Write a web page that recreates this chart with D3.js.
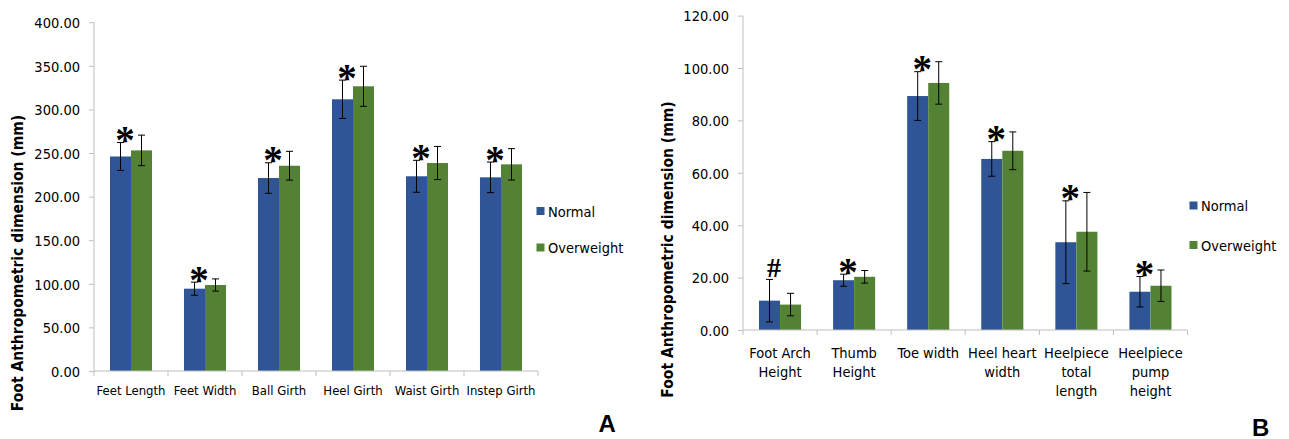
<!DOCTYPE html>
<html>
<head>
<meta charset="utf-8">
<script src="https://cdn.jsdelivr.net/npm/d3@7/dist/d3.min.js"></script>
<style>
  html, body { margin: 0; padding: 0; background: #fff; }
  svg { display: block; }
  .tick-lbl { font-family: "DejaVu Sans Condensed", "DejaVu Sans", sans-serif; fill: #000; }
  .ytitle { font-family: "DejaVu Sans Condensed", "DejaVu Sans", sans-serif; font-weight: bold; fill: #000; }
</style>
</head>
<body>
<svg id="chart" width="1289" height="439"></svg>
<script>
// ---------- Panel A data ----------
const categoriesA = ["Feet Length", "Feet Width", "Ball Girth", "Heel Girth", "Waist Girth", "Instep Girth"];
const normalA      = [246.0, 94.4, 221.3, 311.6, 223.3, 222.1];
const overweightA  = [253.0, 98.6, 235.4, 326.5, 238.5, 237.0];
const normalSdA    = [16.0, 7.5, 17.5, 22.0, 18.3, 17.5];
const overweightSdA= [17.5, 7.0, 16.5, 23.0, 19.0, 18.0];
const markersA     = ["*", "*", "*", "*", "*", "*"];
const ticksA       = [0, 50, 100, 150, 200, 250, 300, 350, 400];

// ---------- Panel B data ----------
const categoriesB = ["Foot Arch\nHeight", "Thumb\nHeight", "Toe width", "Heel heart\nwidth", "Heelpiece\ntotal\nlength", "Heelpiece\npump\nheight"];
const normalB      = [11.2, 19.0, 89.3, 65.3, 33.5, 14.6];
const overweightB  = [9.7, 20.3, 94.3, 68.4, 37.5, 16.9];
const normalSdB    = [8.1, 2.3, 9.3, 6.6, 15.8, 5.8];
const overweightSdB= [4.3, 2.4, 8.1, 7.2, 15.0, 6.0];
const markersB     = ["#", "*", "*", "*", "*", "*"];
const ticksB       = [0, 20, 40, 60, 80, 100, 120];

const seriesNames = ["Normal", "Overweight"];
const seriesColors = ["#2f5597", "#548235"];
const yTitle = "Foot Anthropometric dimension (mm)";

const svg = d3.select("#chart");

function drawPanel(cfg) {
  const g = svg.append("g");
  const x = d3.scaleBand().domain(cfg.categories).range([cfg.x0, cfg.x1])
      .paddingInner(0.432).paddingOuter(0.216);
  const xs = d3.scaleBand().domain(seriesNames).range([0, x.bandwidth()]);
  const y = d3.scaleLinear().domain([0, d3.max(cfg.ticks)]).range([cfg.y0, cfg.y1]);
  const color = d3.scaleOrdinal().domain(seriesNames).range(seriesColors);

  const rows = cfg.categories.map((c, i) => ({
    cat: c,
    vals: [
      {s: "Normal", v: cfg.normal[i], sd: cfg.normalSd[i]},
      {s: "Overweight", v: cfg.over[i], sd: cfg.overSd[i]}
    ],
    mark: cfg.markers[i]
  }));

  // bars
  const grp = g.selectAll("g.cat").data(rows).join("g")
    .attr("transform", d => `translate(${x(d.cat)},0)`);
  grp.selectAll("rect").data(d => d.vals).join("rect")
    .attr("x", d => xs(d.s))
    .attr("width", xs.bandwidth())
    .attr("y", d => y(d.v))
    .attr("height", d => y(0) - y(d.v))
    .attr("fill", d => color(d.s));

  // error bars
  const eb = grp.selectAll("g.err").data(d => d.vals).join("g").attr("class", "err");
  eb.append("line")
    .attr("x1", d => xs(d.s) + xs.bandwidth() / 2).attr("x2", d => xs(d.s) + xs.bandwidth() / 2)
    .attr("y1", d => y(d.v + d.sd)).attr("y2", d => y(d.v - d.sd))
    .attr("stroke", "#000").attr("stroke-width", 1);
  [1, -1].forEach(sign => {
    eb.append("line")
      .attr("x1", d => xs(d.s) + xs.bandwidth() / 2 - 3.5).attr("x2", d => xs(d.s) + xs.bandwidth() / 2 + 3.5)
      .attr("y1", d => y(d.v + sign * d.sd)).attr("y2", d => y(d.v + sign * d.sd))
      .attr("stroke", "#000").attr("stroke-width", 1);
  });

  // significance markers
  grp.append("text")
    .attr("x", xs("Normal") + xs.bandwidth() / 2 + 4.5)
    .attr("y", d => {
      const top = y(d.vals[0].v + d.vals[0].sd);
      return d.mark === "#" ? top - 2 : top + 10.5;
    })
    .attr("text-anchor", "middle")
    .style("font-family", "'Liberation Serif', 'Times New Roman', serif")
    .style("font-weight", "bold")
    .style("font-size", d => d.mark === "#" ? "28px" : "39px")
    .text(d => d.mark);

  // y axis
  const yAxis = d3.axisLeft(y).tickValues(cfg.ticks).tickFormat(d3.format(".2f")).tickSize(5).tickPadding(9);
  const ya = g.append("g").attr("transform", `translate(${cfg.x0},0)`).call(yAxis);
  ya.select(".domain").attr("stroke", "#bfbfbf").attr("d", `M0,${cfg.y0}V${cfg.y1}`);
  ya.selectAll(".tick line").attr("stroke", "#bfbfbf");
  ya.selectAll(".tick text").attr("class", "tick-lbl").attr("fill", "#000")
    .style("font-size", "14.5px").attr("dy", "0.36em");
  ya.attr("font-family", null).attr("font-size", null);

  // x axis (baseline with ticks at category boundaries)
  const xa = g.append("g");
  xa.append("line").attr("x1", cfg.x0).attr("x2", cfg.x1).attr("y1", cfg.y0).attr("y2", cfg.y0)
    .attr("stroke", "#bfbfbf");
  const bounds = cfg.categories.map(c => x(c) - x.step() * 0.216).concat([cfg.x1]);
  xa.selectAll("line.bt").data(bounds).join("line").attr("class", "bt")
    .attr("x1", d => d).attr("x2", d => d).attr("y1", cfg.y0).attr("y2", cfg.y0 + 5)
    .attr("stroke", "#bfbfbf");
  const lbl = xa.selectAll("text.cl").data(cfg.categories).join("text").attr("class", "tick-lbl cl")
    .attr("text-anchor", "middle")
    .style("font-size", cfg.catFont + "px")
    .attr("transform", d => `translate(${x(d) + x.bandwidth() / 2},${cfg.catBaseline})`);
  lbl.selectAll("tspan").data(d => d.split("\n")).join("tspan")
    .attr("x", 0).attr("y", (d, i) => i * 19).text(d => d);

  // y title
  g.append("text").attr("class", "ytitle")
    .attr("transform", `translate(${cfg.titleX},${cfg.titleY}) rotate(-90)`)
    .attr("text-anchor", "middle").style("font-size", "15.5px").text(yTitle);

  // legend
  const lg = g.selectAll("g.leg").data(seriesNames).join("g")
    .attr("transform", (d, i) => `translate(${cfg.legX},${cfg.legY + i * cfg.legGap})`);
  lg.append("rect").attr("x", 0).attr("y", -4).attr("width", 8).attr("height", 8).attr("fill", d => color(d));
  lg.append("text").attr("class", "tick-lbl").attr("x", 11.5).attr("y", 5.5)
    .style("font-size", "14.5px").text(d => d);

  // panel letter
  g.append("text").attr("x", cfg.letterX).attr("y", cfg.letterY)
    .style("font-family", "'Liberation Sans', Arial, sans-serif").style("font-weight", "bold")
    .style("font-size", "24px").text(cfg.letter);
}

drawPanel({
  categories: categoriesA, normal: normalA, over: overweightA,
  normalSd: normalSdA, overSd: overweightSdA, markers: markersA, ticks: ticksA,
  x0: 94, x1: 538, y0: 371, y1: 22.2, catFont: 13, catBaseline: 395,
  titleX: 22.5, titleY: 263, legX: 536.5, legY: 211, legGap: 36.5,
  letter: "A", letterX: 598.5, letterY: 432
});

drawPanel({
  categories: categoriesB, normal: normalB, over: overweightB,
  normalSd: normalSdB, overSd: overweightSdB, markers: markersB, ticks: ticksB,
  x0: 743, x1: 1187.5, y0: 330, y1: 15.6, catFont: 14.5, catBaseline: 357.5,
  titleX: 673, titleY: 249.5, legX: 1189.5, legY: 205.5, legGap: 39.5,
  letter: "B", letterX: 1252, letterY: 435.5
});
</script>
</body>
</html>
